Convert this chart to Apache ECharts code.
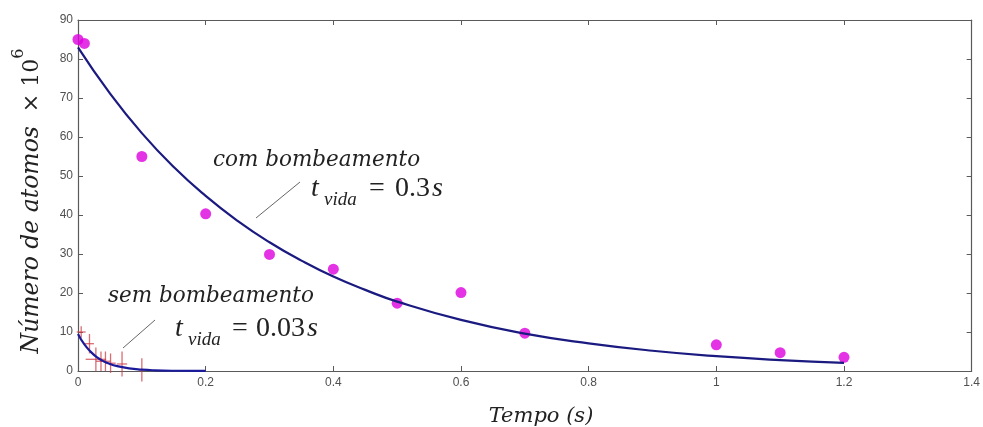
<!DOCTYPE html>
<html><head><meta charset="utf-8">
<script src="https://cdn.jsdelivr.net/npm/echarts@6/dist/echarts.min.js"></script>
<style>html,body{margin:0;padding:0;background:#fff}#c{width:983px;height:427px}</style>
</head><body><div id="c"></div>
<script>
// "com bombeamento" measured points
const comT = [0, 0.01, 0.1, 0.2, 0.3, 0.4, 0.5, 0.6, 0.7, 1.0, 1.1, 1.2];
const comN = [85, 84, 55, 40.3, 29.9, 26.1, 17.4, 20.1, 9.7, 6.7, 4.7, 3.5];
// fitted curve (com bombeamento)
const comFitT = [0, 0.05, 0.1, 0.15, 0.2, 0.25, 0.3, 0.35, 0.4, 0.45, 0.5, 0.6, 0.7, 0.8, 0.9, 1.0, 1.1, 1.2];
const comFitN = [83, 71.2, 61.0, 52.3, 44.9, 38.5, 33.0, 28.3, 24.2, 20.8, 17.8, 13.1, 9.6, 7.1, 5.2, 3.8, 2.8, 2.1];
// "sem bombeamento" measured points with error bars
const semT = [0.005, 0.018, 0.028, 0.036, 0.043, 0.051, 0.069, 0.1];
const semN = [10, 7, 3, 2.5, 2.5, 2, 1.8, 0.3];
const semErrT = [0.007, 0.007, 0.016, 0.008, 0.008, 0.008, 0.008, 0.005];
const semErrN = [1.5, 2.5, 3, 2.5, 2.5, 2.5, 3.2, 3];
// fitted curve (sem bombeamento)
const semFitT = [0, 0.01, 0.02, 0.03, 0.04, 0.05, 0.06, 0.08, 0.1, 0.12, 0.15, 0.2];
const semFitN = [9.5, 6.8, 4.9, 3.5, 2.5, 1.8, 1.3, 0.66, 0.34, 0.17, 0.06, 0.01];

const chart = echarts.init(document.getElementById('c'), null, {renderer: 'canvas'});
const zip = (a, b) => a.map((v, i) => [v, b[i]]);
const axisColor = '#5a5a5a';
const labelStyle = {color: '#505050', fontSize: 12, fontFamily: 'Liberation Sans, Arial, sans-serif'};
const serifI = '"DejaVu Serif"';
const times = '"Liberation Serif"';
const tickCfg = {show: true, inside: true, length: 5, lineStyle: {color: axisColor}};
const lineCfg = {show: true, onZero: false, lineStyle: {color: axisColor, width: 1.2}};

function tvida(x, y, eqX, valX, valAlign, valueText) {
  return [
    {type: 'text', x: x, y: y, style: {text: 't', fontFamily: times, fontStyle: 'italic', fontSize: 28, fill: '#222', align: 'left', verticalAlign: 'middle'}},
    {type: 'text', x: x + 13, y: y + 11, style: {text: 'vida', fontFamily: times, fontStyle: 'italic', fontSize: 19, fill: '#222', align: 'left', verticalAlign: 'middle'}},
    {type: 'text', x: eqX, y: y, style: {text: '=', fontFamily: times, fontSize: 28, fill: '#222', align: 'left', verticalAlign: 'middle'}},
    {type: 'text', x: valX, y: y, style: {
      text: '{n|' + valueText + '}{s|s}', align: valAlign, verticalAlign: 'middle',
      rich: {
        n: {fontFamily: times, fontSize: 28, fill: '#222'},
        s: {fontFamily: times, fontStyle: 'italic', fontSize: 28, fill: '#222', padding: [0, 0, 0, 2]}
      }
    }}
  ];
}

const option = {
  backgroundColor: '#fff',
  animation: false,
  grid: {left: 78, right: 8, top: 20, bottom: 56, containLabel: false},
  xAxis: [{
    type: 'value', min: 0, max: 1.4, interval: 0.2,
    axisLine: lineCfg, axisTick: tickCfg,
    axisLabel: Object.assign({margin: 6}, labelStyle),
    splitLine: {show: false}
  }, {
    type: 'value', position: 'top', min: 0, max: 1.4, interval: 0.2,
    axisLine: lineCfg, axisTick: tickCfg,
    axisLabel: {show: false}, splitLine: {show: false}
  }],
  yAxis: [{
    type: 'value', min: 0, max: 90, interval: 10,
    axisLine: lineCfg, axisTick: tickCfg,
    axisLabel: Object.assign({margin: 5}, labelStyle),
    splitLine: {show: false}
  }, {
    type: 'value', position: 'right', min: 0, max: 90, interval: 10,
    axisLine: lineCfg, axisTick: tickCfg,
    axisLabel: {show: false}, splitLine: {show: false}
  }],
  series: [
    {
      type: 'scatter', data: zip(comT, comN), symbol: 'circle', symbolSize: 11,
      itemStyle: {color: '#dd00dd'}, z: 2
    },
    {
      type: 'line', data: zip(comFitT, comFitN), smooth: true, showSymbol: false,
      lineStyle: {color: '#1a1a80', width: 2.2}, z: 3
    },
    {
      type: 'custom', z: 2,
      data: semT.map((t, i) => [t, semN[i], semErrT[i], semErrN[i]]),
      renderItem: function (params, api) {
        const t = api.value(0), n = api.value(1), et = api.value(2), en = api.value(3);
        const c = api.coord([t, n]);
        const l = api.coord([t - et, n]);
        const r = api.coord([t + et, n]);
        const top = api.coord([t, n + en]);
        const bot = api.coord([t, n - en]);
        const st = {stroke: 'rgba(205,60,70,0.75)', lineWidth: 1.3};
        return {
          type: 'group', children: [
            {type: 'line', shape: {x1: l[0], y1: c[1], x2: r[0], y2: c[1]}, style: st},
            {type: 'line', shape: {x1: c[0], y1: top[1], x2: c[0], y2: bot[1]}, style: st}
          ]
        };
      }
    },
    {
      type: 'line', data: zip(semFitT, semFitN), smooth: true, showSymbol: false,
      lineStyle: {color: '#1a1a9a', width: 2.2}, z: 3
    }
  ],
  graphic: [
    // leader lines
    {type: 'line', shape: {x1: 256, y1: 218, x2: 300, y2: 182}, style: {stroke: '#666', lineWidth: 1}},
    {type: 'line', shape: {x1: 123, y1: 348, x2: 155, y2: 320}, style: {stroke: '#666', lineWidth: 1}},
    // com bombeamento
    {type: 'text', x: 213, y: 160, style: {text: 'com bombeamento', fontFamily: serifI, fontStyle: 'italic', fontSize: 21.5, fill: '#222', align: 'left', verticalAlign: 'middle'}},
    ...tvida(311, 189, 369, 443, 'right', '0.3'),
    // sem bombeamento
    {type: 'text', x: 108, y: 296, style: {text: 'sem bombeamento', fontFamily: serifI, fontStyle: 'italic', fontSize: 21.5, fill: '#222', align: 'left', verticalAlign: 'middle'}},
    ...tvida(175, 329, 232, 256, 'left', '0.03'),
    // axis titles
    {type: 'text', x: 541, y: 417, style: {text: 'Tempo (s)', fontFamily: serifI, fontStyle: 'italic', fontSize: 21, fill: '#222', align: 'center', verticalAlign: 'middle'}},
    {type: 'text', x: 27, y: 201, rotation: Math.PI / 2, style: {
      text: '{i|Número de atomos}{n|  × 10}{s|6}', align: 'center', verticalAlign: 'middle',
      rich: {
        i: {fontFamily: serifI, fontStyle: 'italic', fontSize: 23.5, fill: '#222', lineHeight: 32, verticalAlign: 'bottom'},
        n: {fontFamily: serifI, fontSize: 22, fill: '#222', lineHeight: 32, verticalAlign: 'bottom'},
        s: {fontFamily: serifI, fontSize: 16, fill: '#222', lineHeight: 16, verticalAlign: 'top'}
      }
    }}
  ]
};
chart.setOption(option);
</script>
</body></html>
